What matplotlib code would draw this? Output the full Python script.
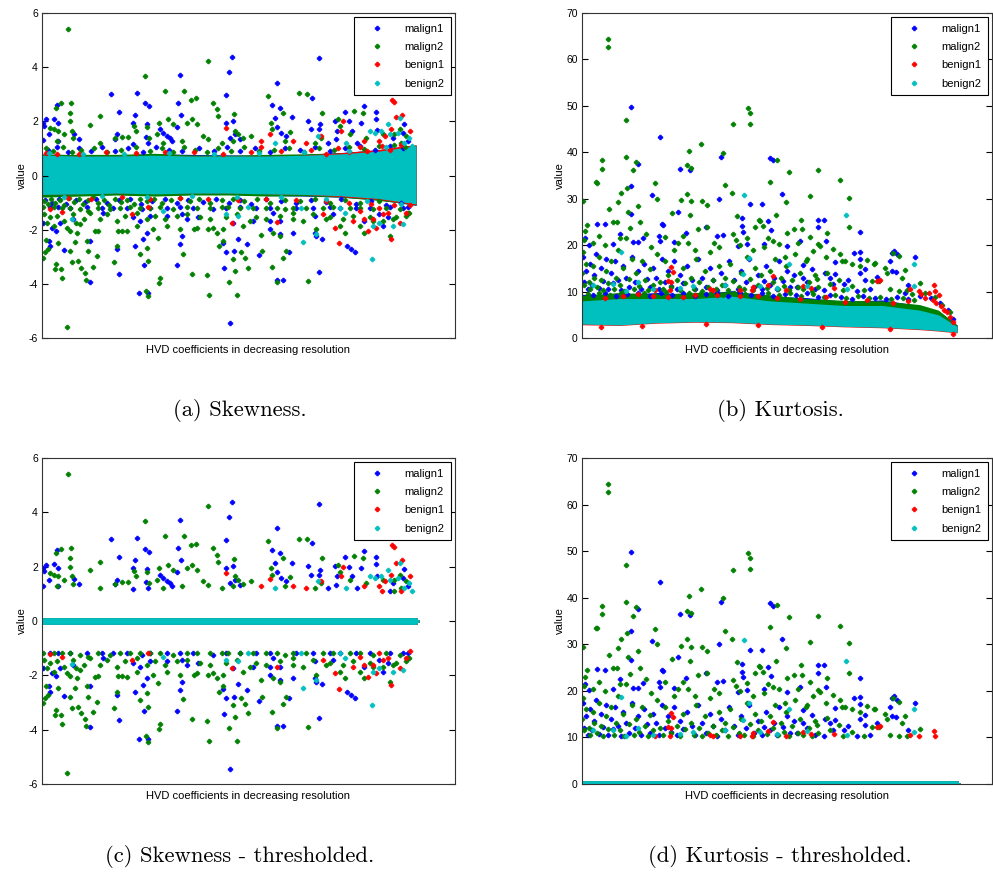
#!/usr/bin/env python3
import numpy as np
import matplotlib.pyplot as plt
from matplotlib.lines import Line2D

plt.rcParams['font.family'] = ['Liberation Sans', 'DejaVu Sans']
plt.rcParams['axes.unicode_minus'] = False

# ---- data ------------------------------------------------------------------
n_coef = 1001                      # HVD coefficients (index 0 .. 1000)
labels = ['malign1', 'malign2', 'benign1', 'benign2']
colors = ['#0000ff', '#008000', '#ff0000', '#00bfbf']

# dense core of each series, read as lower / upper envelope per coefficient bin
band_x = [0, 100, 200, 300, 400, 500, 600, 700, 800, 900, 950, 1000]

skew_band_lo = [
    [-0.76, -0.74, -0.7, -0.74, -0.7, -0.7, -0.74, -0.76, -0.8, -0.9, -1.0, -1.1],
    [-0.8, -0.76, -0.72, -0.76, -0.72, -0.72, -0.76, -0.75, -0.8, -0.92, -1.0, -1.1],
    [-0.69, -0.67, -0.64, -0.67, -0.64, -0.64, -0.67, -0.7, -0.78, -0.88, -0.98, -1.08],
    [-0.7, -0.68, -0.65, -0.68, -0.65, -0.65, -0.68, -0.7, -0.75, -0.85, -0.95, -1.05],
]
skew_band_hi = [
    [0.8, 0.76, 0.75, 0.8, 0.78, 0.76, 0.75, 0.78, 0.85, 0.95, 1.05, 1.12],
    [0.78, 0.78, 0.78, 0.82, 0.76, 0.75, 0.78, 0.8, 0.84, 0.94, 1.04, 1.12],
    [0.74, 0.71, 0.71, 0.74, 0.71, 0.71, 0.71, 0.75, 0.84, 0.96, 1.06, 1.13],
    [0.75, 0.72, 0.72, 0.75, 0.72, 0.72, 0.72, 0.75, 0.8, 0.9, 1.0, 1.1],
]
kurt_band_lo = [
    [3.1, 3.0, 3.4, 3.6, 3.5, 3.1, 2.9, 2.6, 2.4, 2.0, 1.7, 1.3],
    [3.2, 3.1, 3.5, 3.7, 3.6, 3.2, 3.0, 2.7, 2.5, 2.1, 1.8, 1.4],
    [2.85, 2.7, 3.2, 3.4, 3.3, 2.9, 2.7, 2.4, 2.2, 1.8, 1.5, 1.1],
    [3.0, 2.8, 3.3, 3.5, 3.4, 3.0, 2.8, 2.5, 2.3, 1.9, 1.6, 1.2],
]
kurt_band_hi = [
    [9.4, 9.3, 9.8, 9.4, 10.2, 9.0, 8.7, 7.9, 8.2, 7.0, 5.8, 2.8],
    [9.2, 9.8, 9.4, 9.8, 10.0, 9.3, 8.5, 8.1, 8.0, 7.2, 6.0, 2.8],
    [7.8, 8.3, 8.3, 8.3, 8.8, 7.8, 7.3, 6.8, 6.8, 5.8, 4.9, 2.4],
    [8.0, 8.5, 8.5, 8.5, 9.0, 8.0, 7.5, 7.0, 7.0, 6.0, 5.0, 2.5],
]

# individually visible points (coefficient index, value)
skew_malign1 = [
    (4, 1.95), (6, 1.83), (12, 2.07), (3, 1.3), (18, 1.52), (31, 2.1), (42, 1.95), (40, 2.62),
    (44, 1.27), (86, 1.54), (100, 1.36), (185, 3.02), (206, 2.36), (200, 1.52), (196, 1.36),
    (255, 3.04), (249, 2.23), (243, 1.95), (243, 1.18), (276, 2.66), (280, 1.91), (287, 2.55),
    (278, 1.42), (284, 1.2), (316, 1.7), (324, 1.58), (333, 1.46), (342, 1.4), (347, 1.27),
    (369, 3.7), (364, 2.68), (372, 2.25), (362, 1.8), (507, 4.37), (500, 3.83), (493, 2.99),
    (493, 1.95), (511, 2.03), (516, 1.52), (502, 1.4), (529, 1.33), (628, 3.42), (616, 2.62),
    (637, 2.5), (622, 2.13), (628, 1.8), (640, 1.58), (653, 1.46), (669, 2.15), (722, 2.87),
    (711, 2.03), (720, 1.7), (740, 4.32), (742, 1.89), (740, 1.7), (764, 1.21), (782, 2.03),
    (788, 1.64), (787, 1.33), (809, 2.36), (820, 2.0), (829, 1.64), (842, 1.21), (853, 1.95),
    (860, 2.56), (893, 2.36), (892, 2.1), (896, 1.67), (938, 1.4), (967, 1.91), (966, 1.58),
    (978, 1.27),
    (4, -1.74), (18, -2.41), (22, -2.6), (27, -1.92), (38, -2.04), (58, -2.75), (129, -2.41),
    (129, -3.92), (206, -3.64), (200, -2.72), (249, -2.62), (273, -3.31), (258, -4.35),
    (284, -4.35), (271, -2.35), (280, -2.11), (362, -3.3), (369, -2.54), (373, -2.23),
    (387, -1.62), (486, -3.42), (484, -2.5), (493, -2.82), (513, -2.78), (502, -5.45),
    (525, -2.33), (547, -2.54), (580, -2.93), (628, -3.85), (644, -3.85), (660, -2.82),
    (740, -3.56), (731, -2.11), (749, -2.33), (733, -2.23), (815, -2.62), (827, -2.72),
    (836, -2.84), (911, -1.86), (924, -1.55), (609, -1.98), (636, -2.17), (671, -2.11),
    (22, -1.17), (44, -1.17), (76, -1.19), (120, -1.17), (160, -1.19), (164, -1.37),
    (191, -1.19), (227, -1.19), (267, -1.25), (289, -1.19), (333, -1.19), (369, -1.17),
    (404, -1.19), (458, -1.25), (493, -1.19), (529, -1.17), (573, -1.19), (609, -1.19),
    (618, -1.37), (680, -1.19), (724, -1.19), (769, -1.17), (796, -1.19), (840, -1.19),
    (876, -1.19), (929, -1.17), (964, -1.19), (978, -1.17),
    (49, -1.74), (84, -1.62), (244, -1.55), (262, -1.68), (289, -1.49), (333, -1.49),
    (373, -1.43), (418, -1.55), (511, -1.74), (564, -1.68), (609, -1.68), (636, -1.68),
    (729, -1.49), (778, -1.43), (862, -1.68), (902, -1.43),
]
skew_malign2 = [
    (69, 5.42), (78, 2.68), (50, 2.66), (38, 2.5), (75, 2.32), (74, 2.0), (22, 1.76), (31, 1.7),
    (44, 1.64), (58, 1.52), (80, 1.64), (83, 1.37), (40, 1.27), (127, 1.88), (154, 2.19),
    (154, 1.2), (196, 1.37), (213, 1.42), (231, 1.42), (247, 1.83), (252, 1.64), (276, 3.67),
    (280, 1.8), (287, 1.4), (314, 1.95), (329, 3.12), (338, 2.07), (307, 1.52), (324, 1.2),
    (380, 3.12), (397, 2.8), (411, 2.85), (351, 1.89), (387, 1.95), (400, 2.07), (413, 1.89),
    (373, 1.27), (445, 4.22), (458, 2.68), (468, 2.44), (471, 2.19), (444, 1.33), (431, 1.46),
    (480, 1.21), (514, 2.27), (516, 1.64), (511, 1.27), (524, 1.52), (538, 1.37), (560, 1.46),
    (605, 2.93), (613, 1.95), (616, 1.7), (644, 2.32), (649, 1.27), (662, 1.62), (686, 3.03),
    (708, 3.02), (749, 2.32), (747, 1.4), (729, 1.21), (791, 2.07), (796, 1.82), (822, 1.52),
    (833, 2.38), (858, 2.32), (867, 1.4), (911, 1.52), (942, 1.52), (956, 1.7), (973, 1.46),
    (960, 1.21),
    (4, -3.03), (9, -2.82), (15, -2.72), (6, -1.43), (13, -1.74), (12, -2.38), (36, -3.46),
    (38, -3.27), (51, -3.46), (53, -3.8), (68, -5.58), (44, -2.48), (74, -2.78), (80, -3.19),
    (95, -3.15), (104, -3.4), (116, -3.6), (117, -3.85), (124, -2.78), (136, -3.36),
    (147, -2.97), (89, -2.47), (74, -2.04), (92, -1.74), (102, -1.8), (151, -2.04),
    (120, -2.41), (193, -3.21), (200, -2.62), (204, -2.04), (213, -2.04), (262, -2.9),
    (284, -3.15), (278, -4.25), (284, -4.44), (316, -3.8), (314, -3.97), (311, -2.29),
    (280, -2.66), (376, -2.88), (400, -3.62), (440, -3.68), (446, -4.41), (407, -1.98),
    (444, -1.98), (467, -2.11), (474, -2.6), (483, -2.41), (500, -3.95), (511, -3.09),
    (516, -3.52), (520, -4.41), (533, -2.84), (542, -3.06), (551, -3.4), (587, -2.78),
    (585, -2.19), (616, -3.36), (627, -3.95), (644, -3.06), (653, -2.78), (712, -3.91),
    (618, -2.11), (636, -2.23), (671, -1.62), (733, -1.98), (760, -1.62), (796, -1.86),
    (809, -2.11), (849, -1.86), (862, -2.11), (929, -2.23), (938, -1.62), (982, -1.37),
    (884, -1.68),
    (4, -1.17), (31, -1.17), (53, -1.19), (76, -1.19), (102, -1.25), (124, -1.31),
    (151, -1.19), (182, -1.25), (209, -1.19), (236, -1.17), (262, -1.19), (289, -1.19),
    (316, -1.17), (351, -1.25), (387, -1.17), (413, -1.19), (449, -1.19), (480, -1.17),
    (498, -1.17), (529, -1.19), (565, -1.19), (600, -1.19), (627, -1.19), (649, -1.25),
    (671, -1.19), (707, -1.19), (751, -1.19), (778, -1.17), (822, -1.19), (849, -1.19),
    (885, -1.25), (920, -1.19), (956, -1.25), (978, -1.37),
    (22, -1.55), (40, -1.49), (58, -1.68), (84, -1.43), (111, -1.62), (129, -1.37),
    (156, -1.62), (173, -1.43), (200, -1.68), (222, -1.49), (253, -1.37), (280, -1.62),
    (302, -1.49), (329, -1.62), (360, -1.49), (387, -1.43), (422, -1.55), (449, -1.62),
    (493, -1.55), (520, -1.43), (556, -1.68), (573, -1.55), (600, -1.62), (636, -1.49),
    (671, -1.37), (698, -1.68), (724, -1.43), (769, -1.55), (805, -1.62), (831, -1.49),
    (876, -1.55), (911, -1.68), (947, -1.55), (973, -1.49),
    (31, -1.86), (67, -1.92), (93, -2.11), (142, -2.05), (227, -2.05), (253, -1.86),
    (298, -1.98), (333, -1.86), (369, -1.98), (413, -1.92), (458, -1.92), (484, -1.98),
    (538, -1.86),
]
skew_benign1 = [
    (585, 1.27), (609, 1.54), (671, 1.27), (707, 1.2), (747, 1.46), (804, 2.0), (800, 1.64),
    (862, 1.27), (900, 1.27), (916, 1.46), (936, 2.8), (940, 2.72), (947, 2.15), (962, 2.23),
    (984, 1.64), (933, 1.7), (493, 1.76),
    (22, -1.22), (53, -1.34), (240, -1.43), (284, -1.17), (509, -1.74), (627, -1.7),
    (782, -1.92), (793, -2.5), (831, -1.68), (849, -1.31), (862, -1.62), (884, -1.62),
    (871, -2.05), (893, -1.92), (924, -1.37), (933, -2.35), (956, -1.74), (973, -1.37),
    (751, -1.43), (902, -1.19), (911, -1.43),
]
skew_benign2 = [
    (622, 1.2), (876, 1.64), (889, 1.58), (907, 1.64), (924, 1.89), (929, 1.52), (951, 1.58),
    (956, 2.13), (980, 1.4), (813, 1.2), (738, 1.46), (969, 1.21),
    (80, -1.59), (324, -1.31), (493, -1.43), (524, -1.49), (551, -1.17), (698, -2.47),
    (733, -2.17), (796, -1.19), (809, -1.37), (882, -3.09), (884, -1.86), (902, -1.74),
    (938, -1.86), (964, -1.8), (693, -1.19),
]

# points just outside the dense core (below the threshold, zero after it)
skew_rim_malign1 = [
    (8, -0.9), (28, -1.0), (45, -0.85), (65, -1.05), (90, -0.9), (115, -0.98), (145, -0.88),
    (175, -1.02), (205, -0.92), (235, -0.85), (265, -1.05), (295, -0.95), (330, -0.88),
    (360, -1.0), (390, -0.9), (430, -0.98), (465, -0.85), (500, -1.0), (530, -0.9),
    (560, -1.05), (600, -0.88), (640, -0.95), (680, -1.02), (720, -0.9), (760, -0.98),
    (800, -0.88), (840, -1.05), (880, -0.95), (920, -1.08), (960, -1.0),
    (15, 0.95), (40, 1.05), (70, 0.88), (100, 1.0), (130, 0.9), (160, 1.05), (195, 0.92),
    (230, 1.0), (270, 0.88), (305, 1.05), (340, 0.95), (375, 0.9), (420, 1.0), (460, 0.92),
    (495, 1.05), (530, 0.9), (570, 1.0), (610, 0.88), (650, 1.02), (690, 0.95), (730, 1.05),
    (770, 0.9), (810, 1.0), (850, 1.08), (890, 0.95), (930, 1.1), (965, 1.0),
]
skew_rim_malign2 = [
    (5, -0.95), (15, -1.05), (25, -0.85), (35, -1.0), (48, -0.9), (60, -1.08), (72, -0.82),
    (85, -0.98), (98, -0.88), (110, -1.05), (122, -0.92), (135, -0.8), (150, -1.0),
    (165, -0.9), (180, -1.08), (195, -0.85), (210, -0.98), (228, -0.9), (245, -1.05),
    (262, -0.85), (280, -0.95), (300, -0.88), (320, -1.02), (345, -0.9), (370, -0.82),
    (395, -0.95), (420, -0.85), (450, -1.0), (480, -0.9), (510, -0.85), (540, -0.95),
    (575, -0.88), (610, -1.0), (650, -0.9), (690, -0.95), (730, -0.85), (770, -1.0),
    (810, -0.92), (850, -1.02), (900, -0.95),
    (10, 1.0), (30, 0.9), (55, 1.05), (80, 0.85), (105, 0.95), (140, 1.0), (175, 0.88),
    (210, 0.95), (250, 1.05), (290, 0.9), (320, 1.0), (350, 0.85), (380, 1.05), (410, 0.95),
    (440, 0.88), (470, 1.0), (505, 0.92), (540, 1.05), (580, 0.9), (620, 0.95), (660, 1.0),
    (700, 0.88), (740, 1.02), (780, 0.95), (820, 1.05), (860, 0.98), (900, 1.08), (940, 1.12),
    (970, 1.05),
]
skew_rim_benign1 = [
    (12, 0.82), (40, 0.78), (70, -0.82), (100, 0.8), (130, -0.85), (170, 0.85), (215, -0.8),
    (250, 0.82), (290, -0.88), (330, 0.85), (370, -0.82), (405, 0.88), (445, -0.85),
    (485, 0.8), (525, -0.9), (560, 0.85), (585, 1.05), (600, -0.88), (640, 0.9), (680, -0.92),
    (720, 0.95), (760, -0.95), (790, 1.0), (820, -1.0), (850, 1.05), (880, -1.05), (910, 1.1),
    (940, -1.08), (960, 1.12), (985, -1.1), (760, 0.78), (820, 0.85), (870, 0.9), (930, 0.95),
]
skew_rim_benign2 = [
    (20, 0.82), (60, -0.78), (110, 0.8), (160, -0.76), (220, 0.8), (280, -0.78), (340, 0.82),
    (400, -0.76), (460, 0.8), (520, -0.78), (580, 0.82), (640, -0.8), (700, 0.85),
    (760, -0.85), (820, 0.9), (870, -0.95), (920, 1.05), (960, -1.05), (990, 1.1),
]

kurt_malign1 = [
    (130, 49.8), (207, 43.3), (150, 37.5), (130, 32.8), (130, 26.7), (186, 30.7), (260, 36.4),
    (256, 27.2), (288, 36.2), (371, 39.0), (364, 30.0), (427, 25.8), (448, 28.8), (481, 28.8),
    (502, 38.8), (508, 38.3), (534, 31.1), (630, 25.5), (645, 25.5), (630, 23.8), (742, 22.8),
    (39, 24.6), (61, 24.5), (212, 24.5), (216, 24.3), (330, 23.8), (427, 24.1), (496, 25.2),
    (277, 22.7), (375, 22.2), (428, 22.9), (503, 23.2), (163, 21.6), (204, 22.0), (101, 22.5),
    (7, 21.5), (19, 20.1), (83, 20.3), (136, 20.6), (150, 20.6), (207, 20.8), (246, 20.6),
    (359, 22.0), (417, 19.8), (439, 20.2), (485, 20.3), (546, 19.8), (581, 20.8), (651, 20.8),
    (724, 18.4), (831, 18.8), (889, 17.5), (822, 16.6), (742, 18.6), (742, 17.1),
    (826, 18.4), (840, 18.1), (826, 14.5), (838, 14.3), (870, 11.5), (755, 14.8), (740, 13.9),
    (755, 12.6), (786, 13.2), (733, 10.2), (768, 10.5), (675, 16.4), (675, 13.8), (648, 13.9),
    (670, 11.6), (644, 10.3), (699, 11.6), (590, 15.8), (590, 13.0), (613, 14.8), (573, 11.0),
    (546, 14.5), (537, 12.2), (519, 10.5), (484, 12.2), (479, 10.5),
    (2, 17.5), (6, 12.0), (10, 14.5), (15, 10.5), (20, 16.0), (26, 11.5), (32, 13.5),
    (38, 18.0), (44, 10.8), (50, 15.0), (56, 12.2), (64, 17.0), (70, 10.5), (76, 14.0),
    (82, 11.8), (88, 16.5), (96, 12.5), (104, 10.3), (110, 15.5), (118, 13.0), (126, 11.0),
    (134, 17.5), (142, 12.0), (150, 14.5), (158, 10.5), (165, 16.0), (172, 12.8), (180, 11.0),
    (188, 15.0), (196, 13.0), (205, 10.5), (212, 17.0), (220, 12.0), (228, 14.5), (236, 11.2),
    (244, 16.5), (252, 10.5), (262, 13.5), (270, 11.8), (280, 15.5), (292, 12.5), (300, 10.5),
    (310, 17.0), (320, 13.0), (330, 11.0), (340, 15.0), (350, 12.5), (360, 10.3), (370, 14.0),
    (382, 11.5), (392, 16.5), (405, 12.5), (415, 10.5), (425, 14.5), (436, 12.0), (446, 17.0),
    (458, 11.0), (468, 13.5), (490, 15.5), (500, 11.5), (512, 13.0), (525, 16.5), (555, 11.0),
    (565, 13.5), (600, 12.0), (620, 10.5), (660, 13.0), (710, 12.5),
    (860, 9.6), (900, 9.0), (930, 8.6), (955, 7.5), (975, 6.0), (990, 4.2),
    (30, 9.2), (60, 9.7), (90, 9.0), (120, 9.5), (150, 9.8), (180, 9.1), (210, 9.6),
    (240, 9.3), (270, 9.8), (300, 9.0), (330, 9.5), (360, 9.7), (390, 9.1), (420, 9.6),
    (450, 9.3), (480, 9.8), (510, 9.0), (540, 9.4), (570, 9.2), (600, 9.6), (630, 8.9),
    (660, 9.2), (690, 8.8), (720, 8.5), (750, 9.0), (780, 8.7), (810, 8.4), (840, 8.8),
    (870, 8.3),
]
kurt_malign2 = [
    (69, 64.4), (69, 62.7), (118, 47.0), (116, 39.0), (54, 38.3), (52, 36.5), (37, 33.6),
    (40, 33.4), (3, 29.5), (135, 36.1), (121, 32.4), (143, 37.9), (105, 31.2), (96, 29.3),
    (194, 33.3), (201, 30.0), (279, 31.1), (285, 40.3), (281, 37.2), (290, 36.7), (290, 29.4),
    (264, 29.7), (316, 41.8), (319, 29.4), (332, 28.6), (377, 39.9), (381, 32.9), (402, 46.0),
    (399, 31.2), (442, 49.5), (448, 48.5), (448, 46.1), (521, 38.4), (501, 33.7), (552, 35.8),
    (544, 29.2), (607, 30.5), (630, 36.1), (688, 34.0), (713, 30.2), (72, 27.7), (123, 27.2),
    (148, 28.5), (239, 26.9), (288, 26.4), (412, 26.3), (583, 25.5), (712, 23.9), (516, 26.5),
    (473, 25.4),
    (12, 24.4), (83, 24.9), (93, 24.9), (127, 23.6), (154, 25.0), (310, 23.4), (332, 23.9),
    (403, 22.4), (439, 21.6), (461, 23.9), (475, 25.2), (482, 24.1), (510, 20.8), (526, 20.3),
    (546, 22.7), (564, 23.4), (586, 23.4), (608, 21.8), (617, 18.8), (635, 19.8), (653, 22.7),
    (630, 20.2), (670, 19.1), (688, 18.1), (779, 16.0), (844, 17.7), (830, 18.4), (4, 21.0),
    (8, 23.0), (30, 20.5), (45, 22.0), (60, 20.0), (100, 21.5), (170, 22.5), (185, 19.5),
    (222, 21.8), (255, 20.5), (270, 22.0), (300, 19.0), (352, 20.5), (365, 19.5), (420, 20.0),
    (455, 19.0), (495, 21.5), (540, 17.5), (575, 20.5), (600, 17.0), (650, 17.5), (700, 16.5),
    (720, 16.0), (740, 15.5), (760, 16.8),
    (0, 14.0), (3, 18.5), (5, 11.5), (10, 16.0), (18, 12.0), (22, 10.5), (28, 15.5),
    (33, 13.0), (40, 11.0), (45, 17.5), (50, 12.5), (55, 10.3), (65, 14.5), (70, 11.8),
    (78, 16.5), (85, 10.5), (90, 13.0), (95, 19.0), (100, 11.5), (108, 15.0), (112, 10.2),
    (118, 21.5), (125, 12.8), (132, 17.0), (138, 10.5), (145, 14.0), (152, 11.2), (160, 16.5),
    (168, 12.5), (175, 10.3), (182, 14.8), (190, 11.5), (200, 18.0), (208, 12.0), (215, 10.5),
    (222, 16.5), (230, 13.5), (238, 11.0), (245, 19.0), (252, 12.5), (260, 10.3), (268, 15.0),
    (275, 11.8), (282, 20.5), (290, 13.0), (298, 10.5), (305, 17.0), (312, 12.0), (320, 10.2),
    (328, 14.5), (335, 11.0), (342, 18.5), (350, 12.5), (358, 10.5), (365, 15.5), (372, 11.5),
    (380, 13.0), (388, 10.3), (395, 16.0), (402, 12.2), (410, 21.0), (418, 11.0), (425, 14.0),
    (432, 10.5), (440, 17.5), (448, 12.8), (455, 10.3), (462, 15.0), (470, 11.5), (478, 13.5),
    (485, 19.5), (492, 10.8), (500, 14.5), (508, 12.0), (515, 17.0), (522, 10.5), (530, 13.0),
    (538, 11.2), (545, 15.5), (552, 10.3), (560, 12.5), (568, 18.0), (575, 11.0), (582, 14.0),
    (590, 10.5), (598, 16.5), (605, 12.0), (612, 10.2), (620, 13.5), (628, 11.0),
    (782, 16.2), (809, 15.0), (813, 13.9), (862, 14.6), (853, 13.0), (866, 10.3), (900, 11.8),
    (844, 10.2), (822, 10.5), (791, 12.3), (773, 12.2), (751, 10.3), (720, 11.2), (697, 10.3),
    (684, 12.6), (693, 16.6), (653, 14.1), (626, 12.7), (662, 11.6),
    (880, 9.4), (915, 9.8), (940, 8.8), (960, 7.2), (980, 5.5),
    (15, 9.5), (45, 9.8), (75, 9.2), (105, 9.6), (135, 9.0), (165, 9.7), (195, 9.3),
    (225, 9.9), (255, 9.1), (285, 9.6), (315, 9.4), (345, 9.8), (375, 9.2), (405, 9.7),
    (435, 9.5), (465, 9.0), (495, 9.6), (525, 9.3), (555, 9.8), (585, 9.1), (615, 9.4),
    (645, 8.8), (675, 9.3), (705, 8.7), (735, 9.0), (765, 8.6), (795, 8.9), (825, 8.4),
    (855, 8.7), (885, 8.2),
]
kurt_benign1 = [
    (238, 15.2), (243, 14.3), (229, 12.2), (237, 12.0), (194, 10.3), (234, 10.3), (341, 10.5),
    (350, 10.3), (421, 10.3), (457, 10.9), (452, 10.3), (510, 13.4), (497, 11.4), (544, 10.3),
    (590, 11.2), (611, 10.7), (671, 10.7), (786, 12.3), (795, 12.5), (874, 10.5), (898, 10.2),
    (938, 11.4), (942, 10.2),
    (150, 9.5), (230, 8.8), (300, 9.2), (420, 9.0), (520, 8.7), (650, 8.8), (760, 8.2),
    (60, 8.7), (110, 9.1), (190, 9.0), (270, 8.9), (360, 9.3), (470, 9.1), (580, 8.4),
    (700, 7.8), (830, 7.6), (870, 8.0),
    (905, 9.5), (915, 8.6), (925, 9.8), (935, 8.2), (945, 7.5), (952, 9.2), (958, 6.8),
    (965, 6.0), (972, 5.5), (980, 4.5), (988, 3.5),
    (50, 2.4), (160, 2.5), (330, 3.1), (470, 2.8), (640, 2.4), (820, 1.9), (990, 0.9),
]
kurt_benign2 = [
    (432, 30.9), (703, 26.4), (884, 16.0), (553, 16.0), (105, 18.6), (446, 17.3), (83, 11.6),
    (118, 10.2), (190, 10.5), (295, 11.2), (430, 13.8), (475, 11.2), (706, 10.5), (884, 11.1),
    (30, 11.5), (150, 12.0), (260, 10.8), (380, 11.5), (520, 10.8), (600, 11.3),
]

skew_points = [skew_malign1 + skew_rim_malign1, skew_malign2 + skew_rim_malign2,
               skew_benign1 + skew_rim_benign1, skew_benign2 + skew_rim_benign2]
kurt_points = [kurt_malign1, kurt_malign2, kurt_benign1, kurt_benign2]
skew_threshold = 1.1
kurt_threshold = 10.0

captions = ['(a) Skewness.', '(b) Kurtosis.',
            '(c) Skewness - thresholded.', '(d) Kurtosis - thresholded.']
x_label = 'HVD coefficients in decreasing resolution'

MS = 3.3      # marker size (points)
MEW = 0.6     # marker edge, thickens the plus


# ---- drawing ---------------------------------------------------------------
def draw_panel(ax, band_lo, band_hi, points, threshold=None):
    x_all = np.arange(n_coef)
    for lo, hi, pts, col in zip(band_lo, band_hi, points, colors):
        px, py = np.array(pts, dtype=float).T
        if threshold is None:
            ax.fill_between(band_x, lo, hi, color=col, lw=0)
        else:
            # the dense core lies below the threshold -> all zeros
            ax.plot(x_all, np.zeros(n_coef), 'P', color=col, ms=MS + 0.3, mew=MEW)
            py = np.where(np.abs(py) >= threshold, py, 0.0)
        ax.plot(px, py, 'P', color=col, ms=MS, mew=MEW)


def style_axes(ax, ylim, yticks, xmax):
    ax.set_xlim(0, xmax)
    ax.set_ylim(*ylim)
    ax.set_yticks(yticks)
    ax.set_xticks([])
    ax.tick_params(axis='y', direction='in', right=True, length=4, width=0.8,
                   labelsize=7.5, pad=3)
    for s in ax.spines.values():
        s.set_linewidth(0.8)
        s.set_color('#333333')
    ax.set_xlabel(x_label, fontsize=8, labelpad=5)
    ax.set_ylabel('value', fontsize=8, labelpad=1)
    handles = [Line2D([], [], ls='none', marker='P', ms=MS, mew=MEW, color=c) for c in colors]
    leg = ax.legend(handles, labels, loc='upper right', fontsize=8, fancybox=False,
                    edgecolor='k', framealpha=1, borderaxespad=0.4, handlelength=3.0,
                    handletextpad=1.0, labelspacing=0.75, borderpad=0.55)
    leg.get_frame().set_linewidth(0.8)


fig = plt.figure(figsize=(9.93, 8.72), dpi=100)
W, H = 993, 872


def add_ax(left, top, right, bottom):
    return fig.add_axes([left / W, 1 - bottom / H, (right - left) / W, (bottom - top) / H])


ax_a = add_ax(42, 13, 455, 338)
ax_b = add_ax(582, 13, 992, 338)
ax_c = add_ax(42, 458, 455, 784)
ax_d = add_ax(582, 458, 992, 784)

draw_panel(ax_a, skew_band_lo, skew_band_hi, skew_points)
draw_panel(ax_b, kurt_band_lo, kurt_band_hi, kurt_points)
draw_panel(ax_c, skew_band_lo, skew_band_hi, skew_points, skew_threshold)
draw_panel(ax_d, kurt_band_lo, kurt_band_hi, kurt_points, kurt_threshold)

for ax in (ax_a, ax_c):
    style_axes(ax, (-6, 6), range(-6, 7, 2), 1104)
for ax in (ax_b, ax_d):
    style_axes(ax, (0, 70), range(0, 71, 10), 1093)

for (cx, cy), txt in zip([(240, 410), (780, 410), (240, 856), (780, 856)], captions):
    fig.text(cx / W, 1 - cy / H, txt, family='cmr10', fontsize=16.3, ha='center', va='center')

fig.savefig('out.png', dpi=100)
